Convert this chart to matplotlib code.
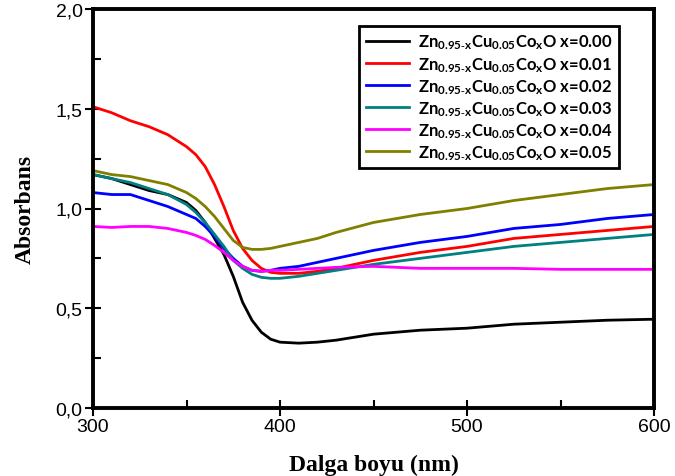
import numpy as np
import matplotlib
matplotlib.use("Agg")
import matplotlib.pyplot as plt
from matplotlib.ticker import MultipleLocator, FuncFormatter

plt.rcParams['mathtext.fontset'] = 'custom'
plt.rcParams['mathtext.rm'] = 'Lato:bold'
plt.rcParams['mathtext.it'] = 'Lato:bold'
plt.rcParams['mathtext.bf'] = 'Lato:bold'

# wavelength (nm)
wl = [300, 310, 320, 330, 340, 350, 355, 360, 365, 370, 375, 380, 385, 390,
      395, 400, 410, 420, 430, 450, 475, 500, 525, 550, 575, 600]

# absorbance for each Co content
a000 = [1.17, 1.15, 1.12, 1.09, 1.07, 1.03, 0.99, 0.93, 0.85, 0.77, 0.66, 0.53, 0.44, 0.38,
        0.345, 0.33, 0.325, 0.33, 0.34, 0.37, 0.39, 0.40, 0.42, 0.43, 0.44, 0.445]
a001 = [1.51, 1.48, 1.44, 1.41, 1.37, 1.31, 1.27, 1.21, 1.12, 1.01, 0.89, 0.80, 0.74, 0.70,
        0.68, 0.675, 0.675, 0.685, 0.70, 0.74, 0.78, 0.81, 0.85, 0.87, 0.89, 0.91]
a002 = [1.08, 1.07, 1.07, 1.04, 1.01, 0.97, 0.95, 0.91, 0.86, 0.80, 0.75, 0.71, 0.69, 0.685,
        0.69, 0.70, 0.71, 0.73, 0.75, 0.79, 0.83, 0.86, 0.90, 0.92, 0.95, 0.97]
a003 = [1.17, 1.15, 1.13, 1.10, 1.07, 1.02, 0.98, 0.93, 0.87, 0.81, 0.74, 0.70, 0.67, 0.655,
        0.65, 0.65, 0.66, 0.675, 0.69, 0.72, 0.75, 0.78, 0.81, 0.83, 0.85, 0.87]
a004 = [0.91, 0.905, 0.91, 0.91, 0.90, 0.88, 0.865, 0.845, 0.815, 0.78, 0.74, 0.71, 0.69, 0.685,
        0.69, 0.69, 0.695, 0.70, 0.705, 0.71, 0.70, 0.70, 0.70, 0.695, 0.695, 0.695]
a005 = [1.19, 1.17, 1.16, 1.14, 1.12, 1.08, 1.05, 1.01, 0.96, 0.90, 0.84, 0.805, 0.795, 0.795,
        0.80, 0.81, 0.83, 0.85, 0.88, 0.93, 0.97, 1.00, 1.04, 1.07, 1.10, 1.12]

series = [a000, a001, a002, a003, a004, a005]
xvals = ['0.00', '0.01', '0.02', '0.03', '0.04', '0.05']
colors = ['black', '#ff0000', '#0000ff', '#008080', '#ff00ff', '#808000']

fig = plt.figure(figsize=(6.75, 4.77), dpi=100)
ax = fig.add_axes([93/675, 1 - 409/477, 561/675, 399/477])

for y, xv, c in zip(series, xvals, colors):
    lab = 'Zn$_{0.95\u2011x}$Cu$_{0.05}$Co$_x$O x=' + xv
    ax.plot(wl, y, color=c, lw=2, label=lab)

ax.set_xlim(300, 600)
ax.set_ylim(0, 2.0)
ax.xaxis.set_major_locator(MultipleLocator(100))
ax.xaxis.set_minor_locator(MultipleLocator(50))
ax.yaxis.set_major_locator(MultipleLocator(0.5))
ax.yaxis.set_minor_locator(MultipleLocator(0.25))
ax.yaxis.set_major_formatter(FuncFormatter(lambda v, p: f'{v:.1f}'.replace('.', ',')))

for s in ax.spines.values():
    s.set_linewidth(2.8)
ax.tick_params(which='major', direction='inout', length=11, width=1.5,
               labelsize=14, pad=2)
ax.tick_params(which='minor', direction='in', length=6, width=1.5)
for t in ax.get_xticklabels() + ax.get_yticklabels():
    t.set_family('Liberation Sans')

ax.set_xlabel('Dalga boyu (nm)', family='Liberation Serif', weight='bold',
              fontsize=17, labelpad=13)
ax.set_ylabel('Absorbans', family='Liberation Serif', weight='bold',
              fontsize=17, labelpad=14)

leg = ax.legend(loc='upper right', bbox_to_anchor=(0.952, 0.978), fancybox=False,
                framealpha=1, edgecolor='black', handlelength=2.6,
                borderpad=0.4, labelspacing=0.2, handletextpad=0.5,
                prop={'family': 'Lato', 'weight': 'bold', 'size': 12})
leg.get_frame().set_linewidth(2)

fig.savefig('out.png', dpi=100)
